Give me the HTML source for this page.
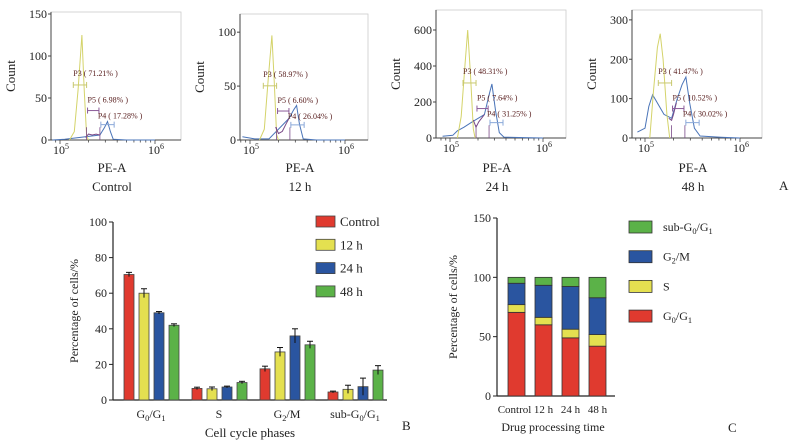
<!DOCTYPE html>
<html><head><meta charset="utf-8">
<style>
html,body{margin:0;padding:0;background:#fff;}
svg{display:block;font-family:"Liberation Serif",serif;}
</style></head>
<body>
<svg id="fig" width="802" height="448" viewBox="0 0 802 448" xmlns="http://www.w3.org/2000/svg"></svg>
<script>
// ---------- Panel B data ----------
const bCategories = ["G0/G1","S","G2/M","sub-G0/G1"];
const bSeriesNames = ["Control","12 h","24 h","48 h"];
const bControl = [70.5, 6.5, 17.5, 4.5];
const b12h = [60, 6.3, 27, 6];
const b24h = [49, 7.3, 36, 7.5];
const b48h = [42, 9.8, 31, 16.8];
const bErrControl = [1.2, 0.7, 1.5, 0.5];
const bErr12h = [2.5, 1.0, 2.5, 2.3];
const bErr24h = [0.7, 0.5, 4.0, 4.8];
const bErr48h = [0.8, 0.7, 2.0, 2.5];
const bTicks = [0,20,40,60,80,100];
// ---------- Panel C data ----------
const cCategories = ["Control","12 h","24 h","48 h"];
const cG0G1 = [70.5, 60, 49, 42];
const cS = [6.5, 6.3, 7.3, 9.8];
const cG2M = [18, 27, 36, 31];
const cSub = [5, 6.7, 7.7, 17.2];
const cTicks = [0,50,100,150];
// ---------- Panel A data (log10 PE-A, count) ----------
const aTitles = ["Control","12 h","24 h","48 h"];
const aYMax = [150, 115, 700, 320];
const aYTicks = [[0,50,100,150],[0,50,100],[0,200,400,600],[0,100,200,300]];
const aYellow = [
 [[5.10,0],[5.15,10],[5.19,60],[5.23,125],[5.255,60],[5.28,5],[5.30,0]],
 [[5.10,0],[5.15,10],[5.19,55],[5.23,97],[5.255,55],[5.28,5],[5.30,0]],
 [[5.08,0],[5.12,120],[5.16,400],[5.19,600],[5.22,350],[5.25,50],[5.27,0]],
 [[5.05,0],[5.09,120],[5.13,230],[5.16,265],[5.19,200],[5.23,60],[5.26,0]]
];
const aPurple = [
 [[5.27,3],[5.30,7],[5.34,6],[5.38,7],[5.42,6]],
 [[5.27,12],[5.30,6],[5.34,8],[5.38,15],[5.41,20]],
 [[5.25,100],[5.28,60],[5.31,90],[5.34,110],[5.37,130]],
 [[5.25,50],[5.28,45],[5.30,60],[5.33,90]]
];
const aBlue = [
 [[4.92,0],[5.05,1],[5.42,6],[5.47,15],[5.50,22],[5.53,10],[5.56,1],[5.70,0],[6.0,0]],
 [[4.92,3],[5.05,1],[5.20,1],[5.41,20],[5.46,28],[5.49,32],[5.52,15],[5.56,1],[5.70,0],[6.0,0]],
 [[4.92,10],[5.03,15],[5.08,40],[5.15,60],[5.24,90],[5.37,130],[5.42,240],[5.45,300],[5.49,150],[5.53,30],[5.58,5],[5.80,2],[6.0,0]],
 [[4.92,15],[5.00,25],[5.04,80],[5.08,110],[5.20,60],[5.28,50],[5.34,100],[5.39,135],[5.43,155],[5.47,90],[5.52,25],[5.58,5],[5.80,2],[6.0,0]]
];
const aP3 = ["P3 ( 71.21% )","P3 ( 58.97% )","P3 ( 48.31% )","P3 ( 41.47% )"];
const aP5 = ["P5 ( 6.98% )","P5 ( 6.60% )","P5 ( 7.64% )","P5 ( 10.52% )"];
const aP4 = ["P4 ( 17.28% )","P4 ( 26.04% )","P4 ( 31.25% )","P4 ( 30.02% )"];

const NS="http://www.w3.org/2000/svg";
const svg=document.getElementById('fig');
function mk(tag,attrs,parent){const e=document.createElementNS(NS,tag);for(const k in attrs)e.setAttribute(k,attrs[k]);(parent||svg).appendChild(e);return e;}
function txt(x,y,s,attrs,parent){const t=mk('text',Object.assign({x:x,y:y},attrs||{}),parent);t.textContent=s;return t;}
function subText(x,y,parts,attrs,parent){
  const t=mk('text',Object.assign({x:x,y:y},attrs||{}),parent);
  parts.forEach(p=>{const ts=mk('tspan',p[1]?{'font-size':'0.7em','dy':'3'}:{'dy':p[2]||'0'},t);ts.textContent=p[0];});
  return t;}

// ---------- Panel A ----------
const aLayout=[
 {ax:51,right:181,top:12,bot:140,d5:60,dec:95},
 {ax:240,right:368,top:14,bot:140,d5:250,dec:95},
 {ax:436,right:566,top:10,bot:138,d5:450,dec:93},
 {ax:632,right:762,top:10,bot:138,d5:645,dec:95}
];
aLayout.forEach((L,i)=>{
  const g=mk('g',{});
  
  
  const X=v=>L.d5+(v-5)*L.dec;
  const Y=c=>L.bot-(c/aYMax[i])*(L.bot-L.top-2);
  mk('rect',{x:L.ax,y:L.top,width:L.right-L.ax,height:L.bot-L.top,fill:'none',stroke:'#ccc','stroke-width':0.8},g);
  mk('line',{x1:L.ax,y1:L.top,x2:L.ax,y2:L.bot,stroke:'#444','stroke-width':1},g);
  mk('line',{x1:L.ax,y1:L.bot,x2:L.right,y2:L.bot,stroke:'#444','stroke-width':1},g);
  aYTicks[i].forEach(v=>{mk('line',{x1:L.ax-3,y1:Y(v),x2:L.ax,y2:Y(v),stroke:'#444'},g);
    const t=txt(L.ax-4,Y(v)+4,String(v),{'font-size':12,'text-anchor':'end',fill:'#222'},g);
    });
  for(let d=4;d<=6;d++)for(let m=1;m<10;m++){const v=d+Math.log10(m);const x=X(v);if(x<L.ax||x>L.right)continue;
    mk('line',{x1:x,y1:L.bot,x2:x,y2:L.bot+(m===1?4:2.5),stroke:'#444','stroke-width':0.8},g);}
  subText(X(5)-7,L.bot+14,[["10",0],["5",0,"-5"]],{'font-size':12,fill:'#222'},g).lastChild.setAttribute('font-size','8');
  subText(X(6)-7,L.bot+14,[["10",0],["6",0,"-5"]],{'font-size':12,fill:'#222'},g).lastChild.setAttribute('font-size','8');
  const cx=(L.ax+L.right)/2-8;
  const xt=txt(cx+4,172,'PE-A',{'font-size':13,'text-anchor':'middle',fill:'#222'},g);
  
  const tt=txt(cx+4,191,aTitles[i],{'font-size':13,'text-anchor':'middle',fill:'#222'},g);
  
  const yt=txt(0,0,'Count',{'font-size':13,'text-anchor':'middle',fill:'#222',transform:`translate(${L.ax-36},${(L.top+L.bot)/2}) rotate(-90)`},g);
  
  const line=(pts,col)=>mk('path',{d:pts.map((q,k)=>(k?'L':'M')+X(q[0]).toFixed(1)+','+Y(q[1]).toFixed(1)).join(''),fill:'none',stroke:col,'stroke-width':1},g);
  const b=line(aBlue[i],'#4a74b8');
  const y=line(aYellow[i],'#d4d36a');
  const p=line(aPurple[i],'#7a4a88');
  const gate=(x1,x2,yy,col,label,lx,ly)=>{
    mk('line',{x1:X(x1),y1:yy,x2:X(x2),y2:yy,stroke:col,'stroke-width':1},g);
    mk('line',{x1:X(x1),y1:yy-3,x2:X(x1),y2:yy+3,stroke:col},g);
    mk('line',{x1:X(x2),y1:yy-3,x2:X(x2),y2:yy+3,stroke:col},g);
    const t=txt(lx,ly,label,{'font-size':8,fill:'#5a2020'},g);
    };
  const h=L.bot-L.top;
  gate(5.14,5.28,L.bot-h*0.43,'#c8c870',aP3[i],X(5.14),L.bot-h*0.43-9);
  gate(5.29,5.41,L.bot-h*0.23,'#8a5a98',aP5[i],X(5.29),L.bot-h*0.23-8);
  gate(5.43,5.57,L.bot-h*0.12,'#8aa8d8',aP4[i],X(5.43)-3,L.bot-h*0.12-6);
  mk('line',{x1:X(5.28),y1:L.bot,x2:X(5.28),y2:L.bot-h*0.1,stroke:'#7a4a88','stroke-width':0.8},g);
  mk('line',{x1:X(5.42),y1:L.bot,x2:X(5.42),y2:L.bot-h*0.1,stroke:'#7a4a88','stroke-width':0.8},g);
});
txt(779,190,'A',{'font-size':13,fill:'#222'});

// ---------- Panel B ----------
(function(){
  const g=mk('g',{});
  const ax=113,top=222,bot=400,right=387;
  const Y=v=>bot-v/100*(bot-top);
  const groupX=i=>151+i*68;
  const series=[bControl,b12h,b24h,b48h];
  const errs=[bErrControl,bErr12h,bErr24h,bErr48h];
  const cols=['#e03a2f','#e4e050','#2a55a0','#5bb248'];
  mk('line',{x1:ax,y1:top,x2:ax,y2:bot,stroke:'#222','stroke-width':1.2},g);
  mk('line',{x1:ax,y1:bot,x2:right,y2:bot,stroke:'#222','stroke-width':1.2},g);
  bTicks.forEach(v=>{mk('line',{x1:ax-4,y1:Y(v),x2:ax,y2:Y(v),stroke:'#222'},g);
    const t=txt(ax-6,Y(v)+4,String(v),{'font-size':12,'text-anchor':'end',fill:'#222'},g);
    });
  series.forEach((s,si)=>s.forEach((v,ci)=>{
    const x=groupX(ci)-27+si*15;
    const r=mk('rect',{x:x,y:Y(v),width:10,height:bot-Y(v),fill:cols[si],stroke:'#444','stroke-width':0.8},g);
    
    const e=errs[si][ci];const cx=x+5;
    mk('line',{x1:cx,y1:Y(v+e),x2:cx,y2:Y(v-e),stroke:'#111'},g);
    mk('line',{x1:cx-3,y1:Y(v+e),x2:cx+3,y2:Y(v+e),stroke:'#111'},g);
  }));
  const lab=[
    [["G",0],["0",1],["/G",0,"-3"],["1",1]],
    [["S",0]],
    [["G",0],["2",1],["/M",0,"-3"]],
    [["sub-G",0],["0",1],["/G",0,"-3"],["1",1]]];
  lab.forEach((p,i)=>{const t=subText(groupX(i),418,p,{'font-size':12,'text-anchor':'middle',fill:'#222'},g);
    });
  const xt=txt(250,437,'Cell cycle phases',{'font-size':13,'text-anchor':'middle',fill:'#222'},g);
  
  const yt=txt(0,0,'Percentage of cells/%',{'font-size':12,'text-anchor':'middle',fill:'#222',transform:'translate(78,311) rotate(-90)'},g);
  
  bSeriesNames.forEach((n,i)=>{const yy=216+i*23.3;
    const le=mk('g',{},g);
    mk('rect',{x:316,y:yy,width:19,height:11,fill:cols[i],stroke:'#444','stroke-width':0.8},le);
    txt(340,yy+10,n,{'font-size':13,fill:'#222'},le);});
  txt(402,430,'B',{'font-size':13,fill:'#222'});
})();

// ---------- Panel C ----------
(function(){
  const g=mk('g',{});
  const ax=497,top=218,bot=396,right=615;
  const Y=v=>bot-v/150*(bot-top);
  const cols=['#e03a2f','#e4e050','#2a55a0','#5bb248'];
  const stacks=[cG0G1,cS,cG2M,cSub];
  const names=['g0g1','s','g2m','sub'];
  mk('line',{x1:ax,y1:top,x2:ax,y2:bot,stroke:'#222','stroke-width':1.2},g);
  mk('line',{x1:ax,y1:bot,x2:right,y2:bot,stroke:'#222','stroke-width':1.2},g);
  cTicks.forEach(v=>{mk('line',{x1:ax-4,y1:Y(v),x2:ax,y2:Y(v),stroke:'#222'},g);
    const t=txt(ax-6,Y(v)+4,String(v),{'font-size':12,'text-anchor':'end',fill:'#222'},g);
    });
  cCategories.forEach((c,i)=>{const x=508+i*27;let base=0;
    stacks.forEach((s,k)=>{const v=s[i];
      const r=mk('rect',{x:x,y:Y(base+v),width:17,height:Y(base)-Y(base+v),fill:cols[k],stroke:'#333','stroke-width':0.8},g);
      
      base+=v;});
    const t=txt(x+8.5+(i===0?-2:0),413,c,{'font-size':11,'text-anchor':'middle',fill:'#222'},g);
    });
  const xt=txt(553,431,'Drug processing time',{'font-size':12,'text-anchor':'middle',fill:'#222'},g);
  
  const yt=txt(0,0,'Percentage of cells/%',{'font-size':12,'text-anchor':'middle',fill:'#222',transform:'translate(457,307) rotate(-90)'},g);
  
  const leg=[[[["sub-G",0],["0",1],["/G",0,"-3"],["1",1]],3],[[["G",0],["2",1],["/M",0,"-3"]],2],[[["S",0]],1],[[["G",0],["0",1],["/G",0,"-3"],["1",1]],0]];
  leg.forEach((L,i)=>{const yy=221+i*29.7;
    const le=mk('g',{},g);
    mk('rect',{x:629,y:yy,width:23,height:12,fill:cols[L[1]],stroke:'#333','stroke-width':0.8},le);
    subText(663,yy+10,L[0],{'font-size':12,fill:'#222'},le);});
  txt(728,432,'C',{'font-size':13,fill:'#222'});
})();
</script>
</body></html>
